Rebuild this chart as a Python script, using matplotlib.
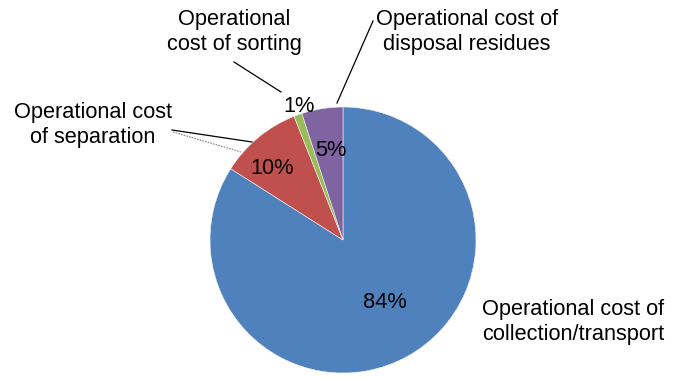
import numpy as np
import matplotlib
matplotlib.use("Agg")
import matplotlib.pyplot as plt

plt.rcParams['font.family'] = ['Liberation Sans', 'DejaVu Sans']

# Data
categories = ["Operational cost of\ncollection/transport",
              "Operational cost\nof separation",
              "Operational\ncost of sorting",
              "Operational cost of\ndisposal residues"]
values = [84, 10, 1, 5]
colors = ["#4F81BD", "#C0504D", "#9BBB59", "#8064A2"]

W, H = 683, 378
fig = plt.figure(figsize=(W / 100, H / 100), dpi=100)
ax = fig.add_axes([0, 0, 1, 1])

def Y(y):
    return H - y

cx, cy, R = 343, Y(240), 133
wedges, _ = ax.pie(values, colors=colors, startangle=90, counterclock=False,
                   center=(cx, cy), radius=R, frame=True,
                   wedgeprops=dict(linewidth=0.4, edgecolor='#f4f4f4'))
ax.set_xlim(0, W)
ax.set_ylim(0, H)
ax.set_aspect('equal')
ax.axis('off')

fs = 15.7
total = sum(values)
# percentage labels near wedge mid-angles
dist = [0.563, 0.76, 1.06, 0.68]
ang_off = [5.3, 5.0, -1.5, -1.0]
start = 90.0
for v, d, o in zip(values, dist, ang_off):
    sweep = 360.0 * v / total
    mid = np.deg2rad(start - sweep / 2 + o)
    start -= sweep
    ax.text(cx + d * R * np.cos(mid), cy + d * R * np.sin(mid),
            f"{round(100 * v / total)}%", ha='center', va='center', fontsize=fs)

# category labels
ls = 1.3
ax.text(482, Y(322), categories[0], ha='left', va='center', fontsize=fs, linespacing=ls)
ax.text(93, Y(125), categories[1], ha='center', va='center', fontsize=fs, linespacing=ls)
ax.text(234, Y(32), categories[2], ha='center', va='center', fontsize=fs, linespacing=ls)
ax.text(467, Y(32), categories[3], ha='center', va='center', fontsize=fs, linespacing=ls)

# leader lines
ax.plot([234, 281], [Y(62), Y(92)], color='black', lw=0.9)
ax.plot([373, 337], [Y(21), Y(103)], color='black', lw=0.9)
ax.plot([172, 252], [Y(130), Y(142)], color='black', lw=0.9)
ax.plot([173, 241], [Y(132), Y(152)], color='#888888', lw=0.8, ls=(0, (1.5, 1)))

fig.savefig("out.png", dpi=100)
